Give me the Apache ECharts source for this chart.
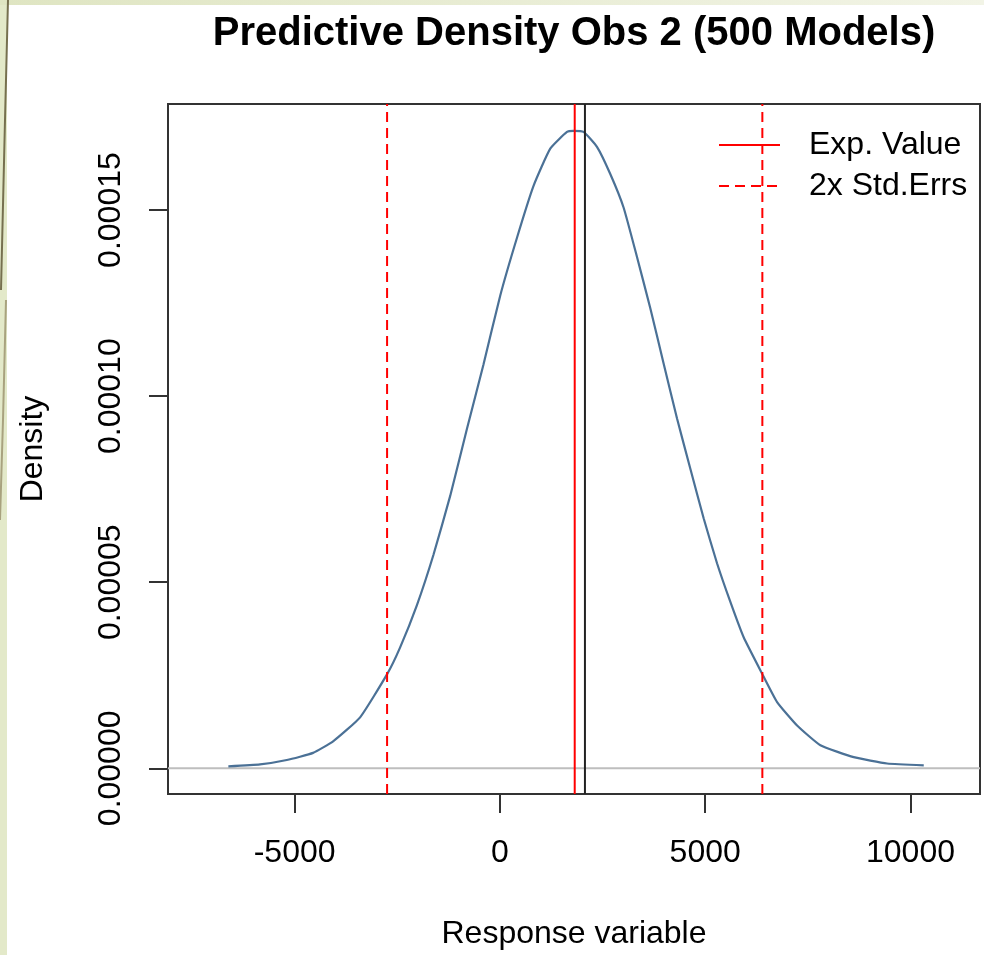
<!DOCTYPE html>
<html>
<head>
<meta charset="utf-8">
<script src="https://cdn.jsdelivr.net/npm/echarts@6/dist/echarts.min.js"></script>
<style>
  html, body { margin: 0; padding: 0; background: #fff; }
  #chart { width: 984px; height: 955px; }
</style>
</head>
<body>
<div id="chart"></div>
<script>
// density curve (x = response, y = density)
const densX = [-6614, -5842, -5191, -4550, -4063, -3405, -2747, -2430, -2023, -1618,
  -1211, -804, -400, 7, 414, 819, 1226, 1633, 1794, 2037, 2364, 2688, 3012, 3339,
  3663, 3987, 4314, 4638, 4962, 5288, 5613, 5937, 6392, 6751, 7238, 7806, 8617, 9431, 10323];
const densY = [0.00000053, 0.00000106, 0.00000223, 0.00000415, 0.00000725, 0.0000137,
  0.0000253, 0.0000325, 0.0000438, 0.0000574, 0.0000732, 0.0000912, 0.0001085, 0.0001270,
  0.0001425, 0.0001565, 0.0001665, 0.0001710, 0.0001713, 0.0001710, 0.0001670, 0.0001597,
  0.0001507, 0.0001374, 0.0001236, 0.0001088, 0.0000940, 0.0000805, 0.0000672, 0.0000551,
  0.0000447, 0.0000352, 0.0000253, 0.0000178, 0.0000115, 0.0000062, 0.0000030, 0.0000013,
  0.0000008];

const expValue = 1822;          // red solid line
const stdErrBounds = [-2748, 6392]; // red dashed lines
const observed = 2071;          // black line

const xTicks = [-5000, 0, 5000, 10000];
const yTicks = [0, 0.00005, 0.0001, 0.00015];

const xMin = -8084, xMax = 11693;
const yMin = -0.0000069, yMax = 0.0001785;

const font = "'Liberation Sans', Arial, sans-serif";

const vline = (x) => [[x, yMin], [x, yMax]];

const chart = echarts.init(document.getElementById('chart'));

chart.setOption({
  animation: false,
  backgroundColor: '#fff',
  title: {
    text: 'Predictive Density Obs 2 (500 Models)',
    left: 569,
    textAlign: 'center',
    top: 9,
    textStyle: { fontFamily: font, fontSize: 40, fontWeight: 'bold', color: '#000' }
  },
  legend: {
    data: ['Exp. Value', '2x Std.Errs'],
    orient: 'vertical',
    left: 718,
    top: 129,
    padding: 0,
    itemWidth: 61,
    itemHeight: 10,
    itemGap: 9,
    selectedMode: false,
    itemStyle: { color: 'rgba(0,0,0,0)', borderWidth: 0, opacity: 0 },
    textStyle: { fontFamily: font, fontSize: 32, color: '#000', lineHeight: 32, padding: [0, 0, 0, 24] }
  },
  grid: {
    left: 168,
    width: 812,
    top: 104,
    height: 698,
    show: true,
    borderColor: '#333',
    borderWidth: 2,
    backgroundColor: 'transparent'
  },
  xAxis: {
    type: 'value',
    min: xMin,
    max: xMax,
    name: 'Response variable',
    nameLocation: 'middle',
    nameGap: 124,
    nameTextStyle: { fontFamily: font, fontSize: 32, color: '#000' },
    axisLine: { show: false, onZero: false },
    splitLine: { show: false },
    axisTick: { show: true, length: 19, lineStyle: { color: '#333', width: 2 }, customValues: xTicks },
    axisLabel: {
      fontFamily: font, fontSize: 32, color: '#000', margin: 43,
      customValues: xTicks,
      formatter: (v) => String(v)
    }
  },
  yAxis: {
    type: 'value',
    min: yMin,
    max: yMax,
    name: 'Density',
    nameLocation: 'middle',
    nameRotate: 90,
    nameGap: 119,
    nameTextStyle: { fontFamily: font, fontSize: 32, color: '#000' },
    axisLine: { show: false, onZero: false },
    splitLine: { show: false },
    axisTick: { show: true, length: 19, lineStyle: { color: '#333', width: 2 }, customValues: yTicks },
    axisLabel: {
      fontFamily: font, fontSize: 32, color: '#000', margin: 41, rotate: 90,
      customValues: yTicks,
      formatter: (v) => v.toFixed(5)
    }
  },
  graphic: [
    // slide background bits on the left/top edges
    { type: 'rect', shape: { x: 0, y: 0, width: 7, height: 955 }, style: { fill: '#e3e9c9' }, silent: true },
    { type: 'rect', shape: { x: 0, y: 0, width: 984, height: 5 },
      style: { fill: new echarts.graphic.LinearGradient(0, 0, 1, 0, [
        { offset: 0, color: '#dfe5c2' }, { offset: 1, color: '#f2f4e6' }]) }, silent: true },
    { type: 'polyline', shape: { points: [[8, 0], [5, 120], [1, 290]] },
      style: { stroke: '#76704f', lineWidth: 2, fill: null }, silent: true },
    { type: 'polyline', shape: { points: [[6, 300], [3, 420], [0, 520]] },
      style: { stroke: '#a8a27e', lineWidth: 2, fill: null }, silent: true }
  ],
  series: [
    {
      name: 'zero',
      type: 'line',
      data: [[xMin, 0], [xMax, 0]],
      symbol: 'none',
      silent: true,
      lineStyle: { color: '#bebebe', width: 2 }
    },
    {
      name: 'Density',
      type: 'line',
      data: densX.map((x, i) => [x, densY[i]]),
      symbol: 'none',
      smooth: 0.15,
      lineStyle: { color: '#4b7196', width: 2.2 }
    },
    {
      name: 'Exp. Value',
      type: 'line',
      data: vline(expValue),
      symbol: 'none',
      lineStyle: { color: '#ff0000', width: 2 }
    },
    {
      name: 'observed',
      type: 'line',
      data: vline(observed),
      symbol: 'none',
      lineStyle: { color: '#222', width: 2 }
    },
    {
      name: '2x Std.Errs',
      type: 'line',
      data: vline(stdErrBounds[0]).concat([[stdErrBounds[0], '-']], vline(stdErrBounds[1])),
      symbol: 'none',
      connectNulls: false,
      lineStyle: { color: '#ff0000', width: 2, type: [10, 6] }
    }
  ]
});
</script>
</body>
</html>
